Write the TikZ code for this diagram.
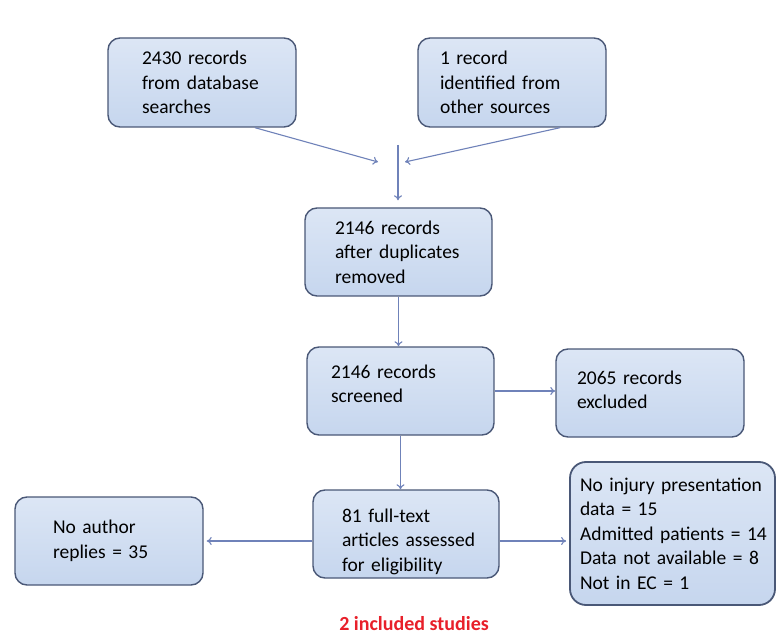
\documentclass[tikz,border=0pt]{standalone}
\usepackage{fontspec}
\setmainfont{Carlito}
\usetikzlibrary{arrows.meta}

\definecolor{boxfill}{HTML}{C6D6EE}
\definecolor{boxtop}{HTML}{DCE6F5}
\definecolor{boxline}{HTML}{4A5877}
\definecolor{flow}{HTML}{6F82B9}
\definecolor{incred}{HTML}{E8202A}

% no hyphenation inside the boxes
\newcommand{\nohyph}{\hyphenpenalty=10000\relax\exhyphenpenalty=10000\relax\hbadness=10000\relax\hfuzz=60pt\relax}

\tikzset{
  stage/.style={draw=boxline, line width=1.4pt, rounded corners=12pt,
    top color=boxtop, bottom color=boxfill, align=left, inner ysep=0pt,
    font=\fontsize{19.5}{24.5}\selectfont},
  % W, H, left inset of the text
  boxsize/.style n args={3}{minimum width=#1pt, minimum height=#2pt,
    inner xsep=#3pt, text width=#1pt-2*#3pt},
  lift/.style={execute at end node={\par\vspace*{#1}}},
  flowline/.style={draw=flow, line width=1.1pt, -{To[length=5pt,width=8pt]}},
}

\begin{document}
\nohyph
\begin{tikzpicture}[x=1pt, y=-1pt]
  \fill[white] (0,0) rectangle (779,636);
  \useasboundingbox (0,0) rectangle (779,636);

  % identification
  \node[stage, boxsize={188}{89}{34}] (db) at (202,82.5)
    {2430~records\\from~database\\searches};
  \node[stage, boxsize={188}{89}{22}] (other) at (512,82.5)
    {1~record\\identified~from\\other~sources};

  % screening
  \node[stage, boxsize={187}{88}{30}] (dedup) at (398.5,252)
    {2146~records\\after~duplicates\\removed};
  \node[stage, boxsize={187}{88}{24}, lift=14pt] (screen) at (400.5,391)
    {2146~records\\screened};
  \node[stage, boxsize={188}{88}{21}, lift=6pt] (excl) at (650,393)
    {2065~records\\excluded};

  % eligibility
  \node[stage, boxsize={186}{88}{29}] (full) at (406,534)
    {\rule{0pt}{29pt}81~full-text\\articles~assessed\\for~eligibility};
  \node[stage, boxsize={188}{88}{38}] (noreply) at (109,541)
    {No~author\\replies~=~35};
  \node[stage, boxsize={205}{143}{10}, rounded corners=16pt, line width=1.8pt] (reasons) at (672.5,533.5)
    {No~injury~presentation\\data~=~15\\Admitted~patients~=~14\\Data~not~available~=~8\\Not~in~EC~=~1};

  % inclusion
  \node[font=\fontsize{20}{24}\selectfont\bfseries, text=incred] (incl) at (414,624)
    {2 included studies};

  % merge point of the two sources
  \coordinate (mleft) at (378,162);
  \coordinate (mright) at (405,162);
  \coordinate (mtop) at (398,145);

  \draw[flowline] ([xshift=53pt]db.south) -- (mleft);
  \draw[flowline] ([xshift=48pt]other.south) -- (mright);
  \draw[flowline, shorten >=7pt] (mtop) -- (mtop |- dedup.north);

  \draw[flowline] (dedup.south) -- (dedup.south |- screen.north);
  \draw[flowline] (screen.east) -- (screen.east -| excl.west);
  \draw[flowline] (screen.south) -- (screen.south |- full.north);
  \draw[flowline, shorten >=3pt] (noreply.east -| full.west) -- (noreply.east);
  \draw[flowline, shorten >=3pt] (full.east |- noreply.east) -- (noreply.east -| reasons.west);
\end{tikzpicture}
\end{document}
